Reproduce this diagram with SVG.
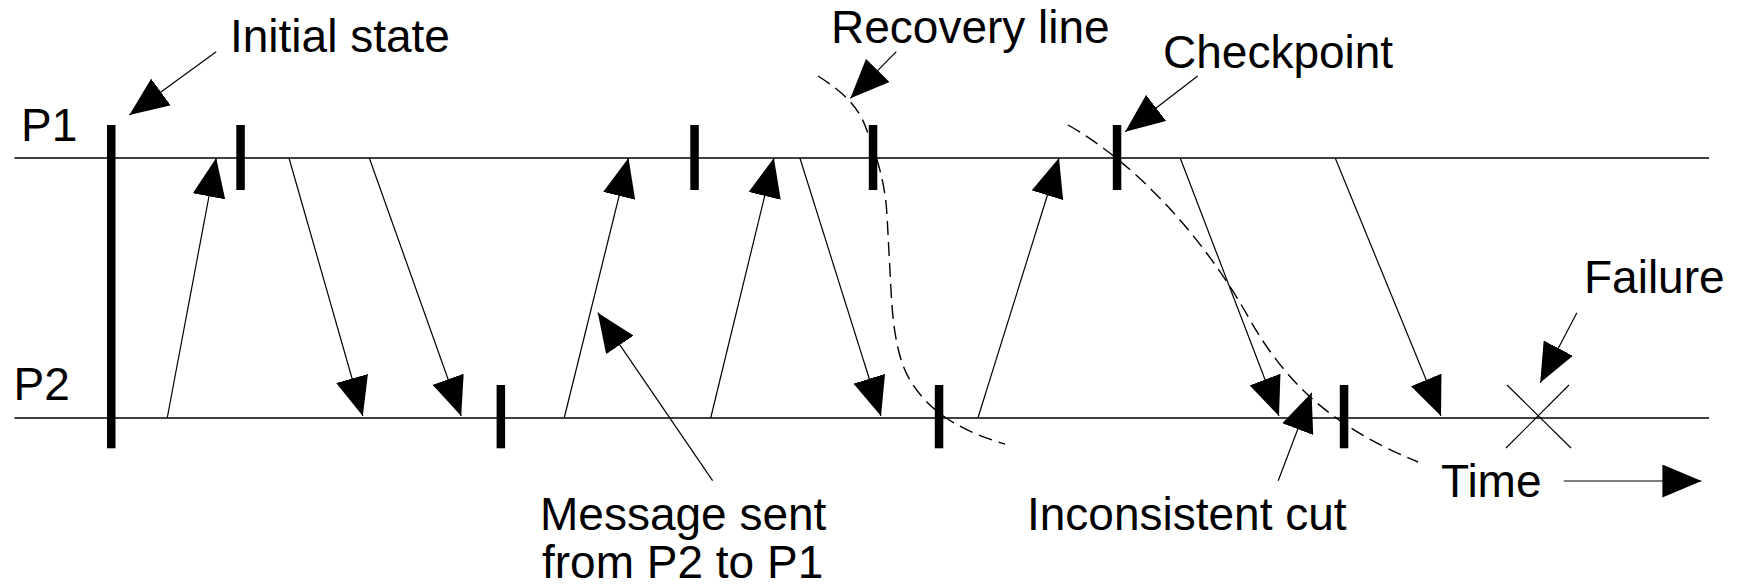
<svg xmlns="http://www.w3.org/2000/svg" width="1738" height="586" viewBox="0 0 1738 586">
<defs>
<style>
text{font-family:"Liberation Sans",Arial,sans-serif;font-size:46px;fill:#000}
.proc{stroke:#000;stroke-width:1.5;fill:none}
.msg{stroke:#000;stroke-width:1.2;fill:none;marker-end:url(#ah)}
.cut{stroke:#000;stroke-width:1.4;fill:none;stroke-dasharray:14 7}
.bar{fill:#000}
.x{stroke:#000;stroke-width:1.2}
</style>
<marker id="ah" markerUnits="userSpaceOnUse" viewBox="0 0 39 33" refX="39" refY="16.5" markerWidth="39" markerHeight="33" orient="auto">
<path d="M0,0 L39,16.5 L0,33 z" fill="#000"/>
</marker>
</defs>
<rect width="1738" height="586" fill="#fff"/>
<g id="process-p1">
<line class="proc" x1="14.5" y1="158" x2="1709" y2="158"/>
<text x="21" y="141">P1</text>
</g>
<g id="process-p2">
<line class="proc" x1="14.5" y1="418" x2="1709" y2="418"/>
<text x="13.5" y="400">P2</text>
</g>
<g id="initial-state">
<rect class="bar" x="107" y="125" width="8.5" height="323.3"/>
</g>
<g id="p1-checkpoints">
<rect class="bar" x="236.3" y="125" width="8.5" height="65"/>
<rect class="bar" x="690.3" y="125" width="8.5" height="65"/>
<rect class="bar" x="868.8" y="125" width="8.5" height="65"/>
<rect class="bar" x="1112.8" y="125" width="8.5" height="65"/>
</g>
<g id="p2-checkpoints">
<rect class="bar" x="496.6" y="385" width="8.5" height="63.3"/>
<rect class="bar" x="934.8" y="385" width="8.5" height="63.3"/>
<rect class="bar" x="1339.8" y="385" width="8.5" height="63.3"/>
</g>
<g id="failure">
<line class="x" x1="1507" y1="385" x2="1571" y2="448"/>
<line class="x" x1="1569" y1="385" x2="1506" y2="448"/>
</g>
<g id="recovery-line">
<path class="cut" d="M818,76 C840,90 858,105 866,128 C876,155 885,180 887,215 L891,290 C893,330 898,360 910,380 C925,405 950,428 1005,444"/>
</g>
<g id="inconsistent-cut">
<path class="cut" d="M1068,125 C1130,160 1200,230 1250,320 C1290,390 1340,430 1418,462"/>
</g>
<g id="labels">
<text x="230" y="52">Initial state</text>
<text x="831" y="43">Recovery line</text>
<text x="1163" y="68">Checkpoint</text>
<text x="1584" y="293">Failure</text>
<text x="540" y="530">Message sent</text>
<text x="542" y="578">from P2 to P1</text>
<text x="1027" y="530">Inconsistent cut</text>
<text x="1441" y="497">Time</text>
</g>
<g id="connectors">
<line class="msg" x1="167.2" y1="418" x2="216.2" y2="158"/>
<line class="msg" x1="289" y1="158" x2="362.8" y2="416"/>
<line class="msg" x1="369.3" y1="158" x2="461.2" y2="416"/>
<line class="msg" x1="564.2" y1="418" x2="628.5" y2="158"/>
<line class="msg" x1="710.7" y1="418" x2="773.9" y2="158"/>
<line class="msg" x1="799.9" y1="158" x2="881" y2="416"/>
<line class="msg" x1="977.9" y1="418" x2="1059" y2="158"/>
<line class="msg" x1="1180.2" y1="158" x2="1279" y2="416"/>
<line class="msg" x1="1335.2" y1="158" x2="1441" y2="416"/>
<line class="msg" x1="216.2" y1="51.7" x2="129.4" y2="115"/>
<line class="msg" x1="896.3" y1="51.7" x2="850.4" y2="98.3"/>
<line class="msg" x1="1197.7" y1="76" x2="1125.2" y2="131.7"/>
<line class="msg" x1="1576.9" y1="312.7" x2="1540.2" y2="382.7"/>
<line class="msg" x1="712.6" y1="480.7" x2="597.8" y2="312.7"/>
<line class="msg" x1="1278.2" y1="480.7" x2="1311.6" y2="392.7"/>
<line class="msg" x1="1563.8" y1="481" x2="1701.4" y2="481"/>
</g>
</svg>
